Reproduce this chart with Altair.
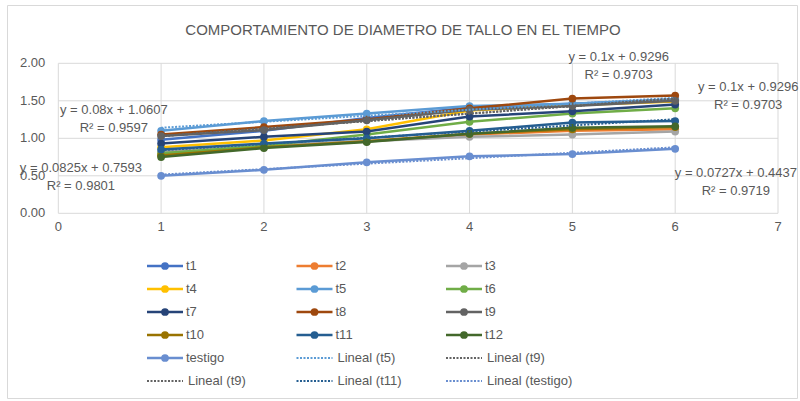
import altair as alt
import pandas as pd

# Days of measurement (evaluation number) and stem diameter per treatment
x_vals = [1, 2, 3, 4, 5, 6]

series_names = ["t1", "t2", "t3", "t4", "t5", "t6", "t7", "t8", "t9",
                "t10", "t11", "t12", "testigo"]
t1 = [0.98, 1.10, 1.27, 1.41, 1.46, 1.51]
t2 = [0.78, 0.89, 0.96, 1.05, 1.10, 1.12]
t3 = [0.82, 0.90, 0.96, 1.02, 1.05, 1.09]
t4 = [0.88, 0.97, 1.12, 1.37, 1.44, 1.49]
t5 = [1.10, 1.23, 1.33, 1.43, 1.46, 1.52]
t6 = [0.80, 0.90, 1.05, 1.22, 1.33, 1.40]
t7 = [0.93, 1.02, 1.09, 1.29, 1.36, 1.45]
t8 = [1.05, 1.15, 1.25, 1.40, 1.53, 1.57]
t9 = [1.03, 1.11, 1.24, 1.38, 1.43, 1.50]
t10 = [0.77, 0.88, 0.96, 1.06, 1.12, 1.15]
t11 = [0.85, 0.93, 1.00, 1.10, 1.21, 1.23]
t12 = [0.75, 0.87, 0.95, 1.06, 1.14, 1.16]
testigo = [0.50, 0.58, 0.68, 0.76, 0.79, 0.86]
series_values = [t1, t2, t3, t4, t5, t6, t7, t8, t9, t10, t11, t12, testigo]
series_colors = ["#4472C4", "#ED7D31", "#A5A5A5", "#FFC000", "#5B9BD5",
                 "#70AD47", "#264478", "#9E480E", "#636363", "#997300",
                 "#255E91", "#43682B", "#698ED0"]

# Linear trend lines (Lineal) with their equations
trend_names = ["Lineal (t5)", "Lineal (t9)", "Lineal (t9)", "Lineal (t11)",
               "Lineal (testigo)"]
trend_colors = ["#5B9BD5", "#636363", "#636363", "#255E91", "#698ED0"]
trend_slopes = [0.08, 0.1, 0.1, 0.0825, 0.0727]
trend_intercepts = [1.0607, 0.9296, 0.9296, 0.7593, 0.4437]
trend_r2 = [0.9597, 0.9703, 0.9703, 0.9801, 0.9719]
trend_x_range = [1, 6]

# Where each equation label's first line sits, in data units
label_anchor_x = [0.54, 5.45, 6.71, 0.22, 6.59]
label_anchor_y = [1.38, 2.09, 1.68, 0.60, 0.54]

x_ticks = [0, 1, 2, 3, 4, 5, 6, 7]
y_ticks = [0.0, 0.5, 1.0, 1.5, 2.0]
y_tick_labels = ["0.00", "0.50", "1.00", "1.50", "2.00"]

title_text = "COMPORTAMIENTO DE DIAMETRO DE TALLO EN EL TIEMPO"

FONT = "Liberation Sans"
TEXT_GRAY = "#595959"
GRID = "#D9D9D9"

X = alt.Scale(domain=[0, 7], range=[51.3, 771])
Y = alt.Scale(domain=[0, 2], range=[208.3, 58.3])
LX = alt.Scale(domain=[0, 2], range=[140, 439])
LY = alt.Scale(domain=[0, 5], range=[261, 376])


def fx(field):
    return alt.X(field, type="quantitative", scale=X, axis=None)


def fy(field):
    return alt.Y(field, type="quantitative", scale=Y, axis=None)


layers = []

# Grid
hgrid = pd.DataFrame({"y": y_ticks, "x0": x_ticks[0], "x1": x_ticks[-1]})
layers.append(alt.Chart(hgrid).mark_rule(color=GRID, strokeWidth=1).encode(
    x=fx("x0"), x2="x1", y=fy("y")))
vgrid = pd.DataFrame({"x": x_ticks, "y0": y_ticks[0], "y1": y_ticks[-1]})
layers.append(alt.Chart(vgrid).mark_rule(color=GRID, strokeWidth=1).encode(
    x=fx("x"), y=fy("y0"), y2="y1"))

# Tick labels
ylab = pd.DataFrame({"y": y_ticks, "t": y_tick_labels, "x": 0})
layers.append(alt.Chart(ylab).mark_text(
    align="right", baseline="middle", dx=-13, font=FONT, fontSize=13,
    color=TEXT_GRAY).encode(x=fx("x"), y=fy("y"), text="t:N"))
xlab = pd.DataFrame({"x": x_ticks, "t": [str(v) for v in x_ticks], "y": 0})
layers.append(alt.Chart(xlab).mark_text(
    align="center", baseline="middle", dy=14, font=FONT, fontSize=13,
    color=TEXT_GRAY).encode(x=fx("x"), y=fy("y"), text="t:N"))

# Series: line with markers, drawn in series order
for name, vals, col in zip(series_names, series_values, series_colors):
    df = pd.DataFrame({"x": x_vals, "y": vals, "serie": name})
    layers.append(alt.Chart(df).mark_line(color=col, strokeWidth=2.5).encode(
        x=fx("x"), y=fy("y")))
    layers.append(alt.Chart(df).mark_circle(color=col, size=60, opacity=1).encode(
        x=fx("x"), y=fy("y")))

# Trend lines from the stated equations
for name, col, m, b in zip(trend_names, trend_colors, trend_slopes, trend_intercepts):
    df = pd.DataFrame({"x": trend_x_range,
                       "y": [m * v + b for v in trend_x_range]})
    layers.append(alt.Chart(df).mark_line(
        color=col, strokeWidth=2, strokeDash=[2, 1.5]).encode(x=fx("x"), y=fy("y")))

# Equation labels
eq_text = [f"y = {m:g}x + {b:g}\nR² = {r:g}"
           for m, b, r in zip(trend_slopes, trend_intercepts, trend_r2)]
eq = pd.DataFrame({"x": label_anchor_x, "y": label_anchor_y, "t": eq_text})
layers.append(alt.Chart(eq).mark_text(
    align="center", baseline="middle", lineBreak="\n", lineHeight=18,
    font=FONT, fontSize=13, color=TEXT_GRAY).encode(
        x=fx("x"), y=fy("y"), text="t:N"))

# Title
layers.append(alt.Chart(pd.DataFrame({"t": [title_text]})).mark_text(
    align="center", baseline="middle", font=FONT, fontSize=15,
    color=TEXT_GRAY).encode(x=alt.value(396), y=alt.value(25), text="t:N"))

# Legend: three columns, series first, then the trend lines
leg_names = series_names + trend_names
leg_colors = series_colors + trend_colors
leg_kind = ["serie"] * len(series_names) + ["trend"] * len(trend_names)
leg = pd.DataFrame({
    "name": leg_names,
    "c": leg_colors,
    "kind": leg_kind,
    "col": [i % 3 for i in range(len(leg_names))],
    "row": [i // 3 for i in range(len(leg_names))],
})
lx = alt.X("col:Q", scale=LX, axis=None)
ly = alt.Y("row:Q", scale=LY, axis=None)
leg_series = leg[leg["kind"] == "serie"]
leg_trend = leg[leg["kind"] == "trend"]
layers.append(alt.Chart(leg_series).mark_rule(strokeWidth=2.5, x2Offset=36).encode(
    x=lx, x2="col:Q", y=ly, color=alt.Color("c:N", scale=None)))
layers.append(alt.Chart(leg_series).mark_circle(size=60, opacity=1, xOffset=18).encode(
    x=lx, y=ly, color=alt.Color("c:N", scale=None)))
layers.append(alt.Chart(leg_trend).mark_rule(
    strokeWidth=2, strokeDash=[2, 1.5], x2Offset=36).encode(
    x=lx, x2="col:Q", y=ly, color=alt.Color("c:N", scale=None)))
layers.append(alt.Chart(leg_series).mark_text(
    align="left", baseline="middle", dx=39, font=FONT, fontSize=13,
    color=TEXT_GRAY).encode(x=lx, y=ly, text="name:N"))
layers.append(alt.Chart(leg_trend).mark_text(
    align="left", baseline="middle", dx=41, font=FONT, fontSize=13,
    color=TEXT_GRAY).encode(x=lx, y=ly, text="name:N"))

chart = alt.layer(*layers).resolve_scale(
    x="independent", y="independent", color="independent"
).properties(
    width=790, height=393,
    autosize=alt.AutoSizeParams(type="none"),
    padding={"left": 7, "top": 5, "right": 3, "bottom": 3},
    background="white",
).configure_view(stroke=GRID, strokeWidth=1)

chart.save("out.html", embed_options={"renderer": "svg", "actions": False})
